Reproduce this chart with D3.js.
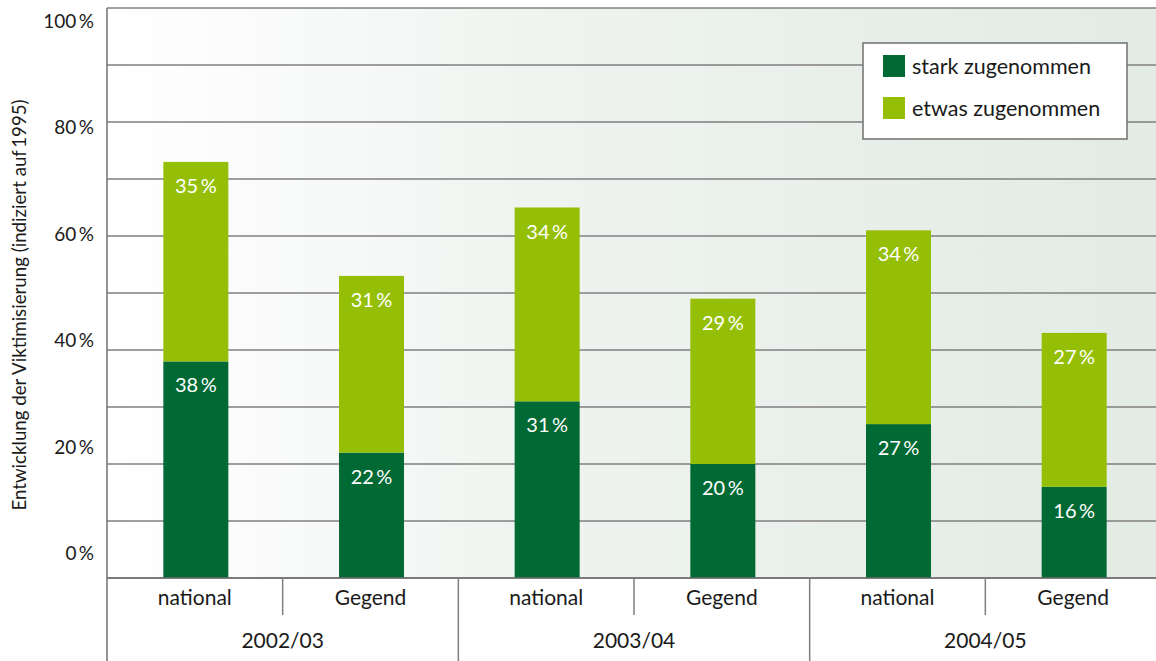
<!DOCTYPE html>
<html>
<head>
<meta charset="utf-8">
<script src="https://cdn.jsdelivr.net/npm/d3@7/dist/d3.min.js"></script>
<style>
  html, body { margin: 0; padding: 0; background: #ffffff; }
  svg { display: block; font-family: Lato, "Noto Sans", sans-serif; }
</style>
</head>
<body>
<svg id="chart" width="1156" height="661"></svg>
<script>
// ---- data ----
const years = ["2002/03", "2003/04", "2004/05"];
const regions = ["national", "Gegend"];
const starkZugenommen = [38, 22, 31, 20, 27, 16];   // order: year x region
const etwasZugenommen = [35, 31, 34, 29, 34, 27];
const seriesNames = ["stark zugenommen", "etwas zugenommen"];
const seriesColors = ["#006934", "#95bf06"];
const yTicks = [0, 20, 40, 60, 80, 100];
const gridTicks = [0, 10, 20, 30, 40, 50, 60, 70, 80, 90, 100];

(function () {
// ---- layout ----
const W = 1156, H = 661;
const plotLeft = 107, plotRightEnd = 1161, plotTop = 8, plotBase = 578;
const svg = d3.select("#chart");

const rows = [];
years.forEach((yr, i) => regions.forEach((rg, j) => {
  const k = i * regions.length + j;
  rows.push({ key: yr + "|" + rg, year: yr, region: rg,
              stark: starkZugenommen[k], etwas: etwasZugenommen[k] });
}));

const y = d3.scaleLinear().domain([0, 100]).range([plotBase, plotTop]);
const yLab = d3.scaleLinear().domain([0, 100]).range([553.5, 21]);
const xSub = d3.scaleBand().domain(rows.map(d => d.key)).range([plotLeft, plotRightEnd]).padding(0);
const xGroup = d3.scaleBand().domain(years).range([plotLeft, plotRightEnd]).padding(0);
const barW = xSub.bandwidth() * 0.37;
const barX = d => xSub(d.key) + (xSub.bandwidth() - barW) / 2 + 1;

// background gradient
const defs = svg.append("defs");
const grad = defs.append("linearGradient").attr("id", "bg")
  .attr("x1", "0").attr("x2", "1").attr("y1", "0").attr("y2", "0");
grad.append("stop").attr("offset", "0").attr("stop-color", "#ffffff");
grad.append("stop").attr("offset", "0.45").attr("stop-color", "#eef3ef");
grad.append("stop").attr("offset", "1").attr("stop-color", "#e2ebe4");
svg.append("rect").attr("x", plotLeft).attr("y", plotTop)
  .attr("width", W - plotLeft).attr("height", plotBase - plotTop).attr("fill", "url(#bg)");

// gridlines
svg.append("g").selectAll("line").data(gridTicks).join("line")
  .attr("x1", plotLeft).attr("x2", W)
  .attr("y1", d => y(d)).attr("y2", d => y(d))
  .attr("stroke", "#7f7f7f").attr("stroke-width", 1.5);

// stacked bars
const stack = d3.stack().keys(["stark", "etwas"])(rows);
svg.append("g").selectAll("g").data(stack).join("g")
  .attr("fill", (s, i) => seriesColors[i])
  .selectAll("rect").data(s => s.map(p => ({ p, d: p.data }))).join("rect")
  .attr("x", o => barX(o.d))
  .attr("width", barW)
  .attr("y", o => y(o.p[1]))
  .attr("height", o => y(o.p[0]) - y(o.p[1]));

// value labels
const lbl = svg.append("g").attr("fill", "#ffffff").attr("font-size", 20)
  .attr("text-anchor", "middle");
stack.forEach(s => {
  s.forEach(p => {
    lbl.append("text")
      .attr("x", barX(p.data) + barW / 2)
      .attr("y", y(p[1]) + 24)
      .attr("dy", "0.35em")
      .text((p[1] - p[0]) + "\u2009%");
  });
});

// axes lines
svg.append("line").attr("x1", plotLeft).attr("x2", W).attr("y1", plotBase).attr("y2", plotBase)
  .attr("stroke", "#6f6f6f").attr("stroke-width", 1.5);
svg.append("line").attr("x1", plotLeft).attr("x2", plotLeft).attr("y1", plotTop).attr("y2", H)
  .attr("stroke", "#6f6f6f").attr("stroke-width", 1.5);

// y tick labels
const yAxis = svg.append("g").attr("transform", "translate(94,0)")
  .call(d3.axisLeft(yLab).tickValues(yTicks).tickSize(0).tickPadding(0)
        .tickFormat(d => d + "\u2009%"));
yAxis.select(".domain").remove();
yAxis.selectAll("text").attr("font-size", 19).attr("fill", "#1a1a1a")
  .attr("font-family", "Lato, 'Noto Sans', sans-serif");

// y title
svg.append("text")
  .attr("transform", `translate(26,${(100 + 510) / 2}) rotate(-90)`)
  .attr("text-anchor", "middle").attr("font-size", 18.7).attr("fill", "#1a1a1a")
  .text("Entwicklung der Viktimisierung (indiziert auf\u20091995)");

// category separators
svg.append("g").selectAll("line").data(years.slice(1)).join("line")
  .attr("x1", d => xGroup(d)).attr("x2", d => xGroup(d))
  .attr("y1", plotBase).attr("y2", H)
  .attr("stroke", "#7f7f7f").attr("stroke-width", 1.5);
svg.append("g").selectAll("line").data(rows.filter(d => d.region !== regions[0])).join("line")
  .attr("x1", d => xSub(d.key)).attr("x2", d => xSub(d.key))
  .attr("y1", plotBase).attr("y2", 615)
  .attr("stroke", "#7f7f7f").attr("stroke-width", 1.5);

// region labels
svg.append("g").selectAll("text").data(rows).join("text")
  .attr("x", d => xSub(d.key) + xSub.bandwidth() / 2)
  .attr("y", 605).attr("text-anchor", "middle")
  .attr("font-size", 21).attr("fill", "#1a1a1a")
  .text(d => d.region);

// year labels
svg.append("g").selectAll("text").data(years).join("text")
  .attr("x", d => xGroup(d) + xGroup.bandwidth() / 2)
  .attr("y", 648).attr("text-anchor", "middle")
  .attr("font-size", 21).attr("fill", "#1a1a1a")
  .text(d => d);

// legend
const lg = svg.append("g").attr("transform", "translate(863,43)");
lg.append("rect").attr("width", 264).attr("height", 96)
  .attr("fill", "#ffffff").attr("stroke", "#707070").attr("stroke-width", 1.5);
const items = lg.selectAll("g").data(seriesNames).join("g")
  .attr("transform", (d, i) => `translate(20,${12 + i * 42})`);
items.append("rect").attr("width", 22).attr("height", 22)
  .attr("fill", (d, i) => seriesColors[i]);
items.append("text").attr("x", 29).attr("y", 11).attr("dy", "0.35em")
  .attr("font-size", 21.5).attr("fill", "#1a1a1a").text(d => d);
})();
</script>
</body>
</html>
